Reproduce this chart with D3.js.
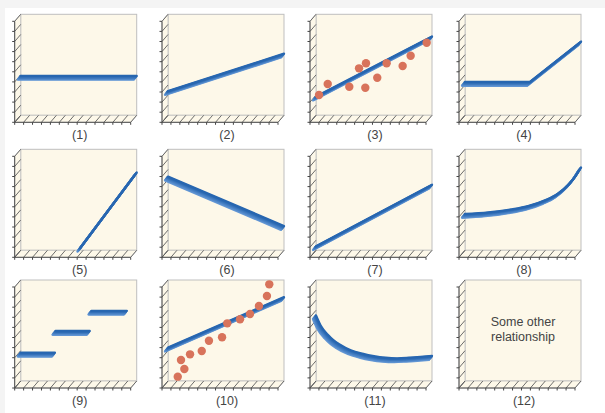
<!DOCTYPE html>
<html><head><meta charset="utf-8">
<script src="https://cdn.jsdelivr.net/npm/d3@7"></script>
<style>html,body{margin:0;padding:0;background:#f4f4f4;} svg{display:block;}</style>
</head><body>
<svg id="chart" width="605" height="413"></svg>
<script>
// ---------- data ----------
const panelLabels = ["(1)","(2)","(3)","(4)","(5)","(6)","(7)","(8)","(9)","(10)","(11)","(12)"];
const series1 = [[0,3.9],[10,3.9]];
const series2 = [[0,2.4],[10,6.1]];
const series3 = [[0,1.85],[10,7.8]];
const scatter3X = [0.26,1.01,2.87,3.71,4.31,4.25,5.28,6.09,7.47,8.16,9.54];
const scatter3Y = [2.01,3.10,2.83,4.65,5.15,2.73,3.72,5.15,4.88,5.90,7.19];
const series4 = [[0,3.3],[5.6,3.3],[10,7.3]];
const series5 = [[5.15,0.25],[10,7.7]];
const series6 = [[0,7.3],[10,2.4]];
const series7 = [[0,0.4],[10,6.5]];
const series8 = [[0,3.6],[2,3.75],[4,4.05],[5.5,4.4],[7,5.0],[8,5.6],[9,6.6],[9.5,7.3],[10,8.2]];
const steps9Start = [0,3.0,6.1];
const steps9End = [2.95,5.95,9.15];
const steps9Level = [2.8,4.95,6.95];
const series10 = [[0,3.3],[10,8.3]];
const scatter10X = [0.84,1.41,1.12,1.90,2.91,3.53,4.66,5.11,6.21,7.07,7.84,8.53,8.73];
const scatter10Y = [0.43,1.19,2.08,2.64,2.97,3.99,4.33,5.71,6.11,6.63,7.43,8.42,9.57];
const series11 = [[0,6.5],[0.4,5.5],[1,4.6],[1.5,4.05],[2,3.65],[3,3.05],[4,2.7],[5,2.45],[6,2.3],[7,2.25],[8,2.3],[9,2.38],[10,2.48]];
const panel12Text = ["Some other","relationship"];
const xTickValues = d3.range(0,14);   // 14 floor ticks
const yTickValues = d3.range(0,11);   // 11 wall ticks

// ---------- layout ----------
const colBackLeft = [20.7,168,316,465];
const rowBackTop = [14.3,149.3,280];
const boxW = 116, boxH = 101, dX = 6, dY = 7;
const cream = "#fdf8e9";
const ribbonOff = [-3,3.8];

const svg = d3.select("#chart");
svg.append("rect").attr("x",5).attr("y",8).attr("width",600).attr("height",405).attr("fill","#ffffff");

const panels = [
  {lines:[series1]},
  {lines:[series2]},
  {lines:[series3], dots:d3.zip(scatter3X,scatter3Y)},
  {lines:[series4]},
  {lines:[series5]},
  {lines:[series6]},
  {lines:[series7]},
  {lines:[series8], curve:d3.curveMonotoneX},
  {lines:steps9Start.map((s,i)=>[[s,steps9Level[i]],[steps9End[i],steps9Level[i]]])},
  {lines:[series10], dots:d3.zip(scatter10X,scatter10Y)},
  {lines:[series11], curve:d3.curveMonotoneX},
  {text:panel12Text}
];

const colorInterp = d3.interpolateRgb("#2766b0","#6699d6");

panels.forEach((p,i)=>{
  const col = i%4, row = Math.floor(i/4);
  const bl = colBackLeft[col], br = bl+boxW, top = rowBackTop[row], bb = top+boxH;
  const x = d3.scaleLinear().domain([0,10]).range([bl,br]);
  const y = d3.scaleLinear().domain([0,10]).range([bb,top]);
  const xf = d3.scaleLinear().domain([0,13]).range([bl-dX,br-dX]);
  const yf = d3.scaleLinear().domain([0,10]).range([bb+dY,top+dY]);
  const g = svg.append("g");

  g.append("rect").attr("x",bl).attr("y",top).attr("width",boxW).attr("height",boxH)
    .attr("fill",cream).attr("stroke","#bfbfbf").attr("stroke-width",1);
  g.append("path").attr("d",`M${bl},${top}L${bl-dX},${top+dY}L${bl-dX},${bb+dY}L${bl},${bb}Z`)
    .attr("fill",cream).attr("stroke","#bfbfbf").attr("stroke-width",0.8);
  g.append("path").attr("d",`M${bl},${bb}L${bl-dX},${bb+dY}L${br-dX},${bb+dY}L${br},${bb}Z`)
    .attr("fill",cream).attr("stroke","#bfbfbf").attr("stroke-width",0.8);

  yTickValues.forEach(v=>{
    const yy = yf(v);
    g.append("line").attr("x1",bl-dX).attr("y1",yy).attr("x2",bl).attr("y2",yy-dY)
      .attr("stroke","#5c5c5c").attr("stroke-width",0.9);
    g.append("line").attr("x1",bl-dX-2.5).attr("y1",yy).attr("x2",bl-dX).attr("y2",yy)
      .attr("stroke","#444").attr("stroke-width",1);
  });
  xTickValues.forEach(v=>{
    const xx = xf(v);
    g.append("line").attr("x1",xx).attr("y1",bb+dY).attr("x2",xx+dX).attr("y2",bb)
      .attr("stroke","#5c5c5c").attr("stroke-width",0.9);
    g.append("line").attr("x1",xx).attr("y1",bb+dY).attr("x2",xx).attr("y2",bb+dY+2.5)
      .attr("stroke","#444").attr("stroke-width",1);
  });
  g.append("line").attr("x1",bl-dX).attr("y1",top+dY).attr("x2",bl-dX).attr("y2",bb+dY)
    .attr("stroke","#4a4a4a").attr("stroke-width",1);
  g.append("line").attr("x1",bl-dX).attr("y1",bb+dY).attr("x2",br-dX).attr("y2",bb+dY)
    .attr("stroke","#4a4a4a").attr("stroke-width",1);

  if (p.lines) {
    const lineGen = d3.line().x(d=>x(d[0])).y(d=>y(d[1])).curve(p.curve || d3.curveLinear);
    const n = 8;
    p.lines.forEach(pts=>{
      for (let k=n-1;k>=0;k--){
        const t = k/(n-1);
        g.append("path").attr("d",lineGen(pts))
          .attr("transform",`translate(${ribbonOff[0]*t},${ribbonOff[1]*t})`)
          .attr("fill","none").attr("stroke",colorInterp(t))
          .attr("stroke-width",2.3).attr("stroke-linecap","round").attr("stroke-linejoin","round");
      }
    });
  }
  if (p.dots) {
    g.selectAll("circle.dot").data(p.dots).join("circle").attr("class","dot")
      .attr("cx",d=>x(d[0])).attr("cy",d=>y(d[1])).attr("r",4.2)
      .attr("fill","#d8735b");
  }
  if (p.text) {
    p.text.forEach((t,j)=>{
      g.append("text").attr("x",(bl+br)/2).attr("y",top+46+j*15)
        .attr("text-anchor","middle").attr("font-family","'Liberation Sans', Arial, sans-serif")
        .attr("font-size",12.5).attr("fill","#444").text(t);
    });
  }
  g.append("text").attr("x",(bl+br)/2+1).attr("y",bb+dY+16.5)
    .attr("text-anchor","middle").attr("font-family","'Liberation Sans', Arial, sans-serif")
    .attr("font-size",12.5).attr("fill","#444").text(panelLabels[i]);
});
</script>
</body></html>
